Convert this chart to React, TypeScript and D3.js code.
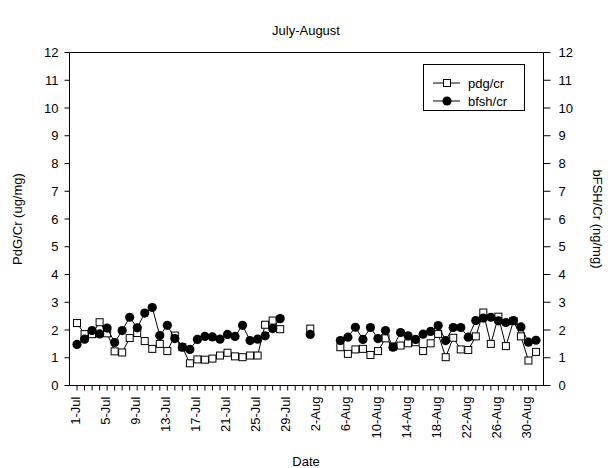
import React from 'react';
import * as d3 from 'd3';

// one entry per day, 1-Jul .. 31-Aug ; null = no sample that day
const startDate = new Date(2000, 6, 1);
const pdgValues = [
  2.25, 1.85, 1.85, 2.28, 1.88, 1.23, 1.19, 1.71, 1.89, 1.6, 1.32, 1.5, 1.24, 1.8, 1.38, 0.8,
  0.94, 0.93, 0.97, 1.08, 1.18, 1.05, 1.02, 1.08, 1.08, 2.19, 2.34, 2.03, null, null, null,
  2.05, null, null, null, 1.38, 1.14, 1.3, 1.32, 1.1, 1.24, 1.7, 1.4, 1.44, 1.52, 1.56, 1.24,
  1.52, 1.86, 1.02, 1.72, 1.3, 1.28, 1.77, 2.63, 1.5, 2.48, 1.42, 2.32, 1.77, 0.9, 1.21,
];
const bfshValues = [
  1.48, 1.67, 1.98, 1.86, 2.07, 1.55, 1.98, 2.46, 2.08, 2.61, 2.81, 1.8, 2.17, 1.69, 1.38, 1.3,
  1.66, 1.77, 1.75, 1.67, 1.84, 1.77, 2.17, 1.62, 1.67, 1.79, 2.05, 2.41, null, null, null,
  1.84, null, null, null, 1.62, 1.74, 2.1, 1.66, 2.09, 1.69, 1.98, 1.38, 1.91, 1.79, 1.66, 1.85,
  1.95, 2.16, 1.62, 2.09, 2.09, 1.74, 2.34, 2.43, 2.46, 2.33, 2.27, 2.34, 2.11, 1.56, 1.63,
];
const yTicks = [0, 1, 2, 3, 4, 5, 6, 7, 8, 9, 10, 11, 12];
const seriesNames = ['pdg/cr', 'bfsh/cr'];

const W = 608;
const H = 468;
const left = 69.5;
const right = 543.5;
const top = 52.5;
const bottom = 385.5;
const font = 'Arial, "Liberation Sans", sans-serif';

type Pt = { date: Date; v: number | null };

const toPoints = (vals: (number | null)[]): Pt[] =>
  vals.map((v, i) => ({ date: d3.timeDay.offset(startDate, i), v }));

export default function App() {
  const x = d3
    .scaleTime()
    .domain([new Date(2000, 5, 30), new Date(2000, 8, 1)])
    .range([left, right]);
  const y = d3.scaleLinear().domain([0, 12]).range([bottom, top]);

  const pdg = toPoints(pdgValues);
  const bfsh = toPoints(bfshValues);

  const line = d3
    .line<Pt>()
    .defined(d => d.v !== null)
    .x(d => x(d.date))
    .y(d => y(d.v as number));

  const dayTicks = d3.timeDay.range(new Date(2000, 6, 1), new Date(2000, 8, 1));
  const labelTicks = dayTicks.filter((_, i) => i % 4 === 0);
  const fmt = d3.timeFormat('%-d-%b');

  return (
    <svg width={W} height={H} style={{ position: 'absolute', left: 0, top: 0 }} fontFamily={font}>
      <rect width={W} height={H} fill="#fff" />
      <text x={306} y={35} textAnchor="middle" fontSize={13}>July-August</text>

      {/* frame */}
      <line x1={left} x2={right} y1={top} y2={top} stroke="#000" strokeWidth={1} />
      <line x1={left} x2={right} y1={bottom} y2={bottom} stroke="#000" />
      <line x1={left} x2={left} y1={top} y2={bottom} stroke="#000" />
      <line x1={right} x2={right} y1={top} y2={bottom} stroke="#000" />

      {/* y axes */}
      {yTicks.map(t => (
        <g key={t}>
          <line x1={left - 5} x2={left} y1={y(t)} y2={y(t)} stroke="#000" />
          <text x={left - 11} y={y(t)} dy="0.36em" textAnchor="end" fontSize={13}>{t}</text>
          <line x1={right} x2={right + 7} y1={y(t)} y2={y(t)} stroke="#000" />
          <text x={right + 15} y={y(t)} dy="0.36em" textAnchor="start" fontSize={13}>{t}</text>
        </g>
      ))}

      {/* x axis */}
      {dayTicks.map(d => (
        <line key={+d} x1={x(d)} x2={x(d)} y1={bottom} y2={bottom + 5} stroke="#000" />
      ))}
      {labelTicks.map(d => (
        <text
          key={+d}
          transform={`translate(${x(d)},${bottom + 11}) rotate(-90)`}
          dy="0.2em"
          textAnchor="end"
          fontSize={13}
        >
          {fmt(d)}
        </text>
      ))}

      <text x={306} y={466} textAnchor="middle" fontSize={13}>Date</text>
      <text transform={`translate(22,${(top + bottom) / 2}) rotate(-90)`} textAnchor="middle" fontSize={13}>
        PdG/Cr (ug/mg)
      </text>
      <text transform={`translate(593,${(top + bottom) / 2}) rotate(90)`} textAnchor="middle" fontSize={13}>
        bFSH/Cr (ng/mg)
      </text>

      {/* pdg series */}
      <path d={line(pdg) || ''} fill="none" stroke="#000" strokeWidth={1} />
      {pdg.filter(d => d.v !== null).map(d => (
        <rect
          key={+d.date}
          x={x(d.date) - 3.5}
          y={y(d.v as number) - 3.5}
          width={7}
          height={7}
          fill="#fff"
          stroke="#000"
        />
      ))}

      {/* bfsh series */}
      <path d={line(bfsh) || ''} fill="none" stroke="#000" strokeWidth={1} />
      {bfsh.filter(d => d.v !== null).map(d => (
        <circle key={+d.date} cx={x(d.date)} cy={y(d.v as number)} r={4.6} fill="#000" />
      ))}

      {/* legend */}
      <rect x={423.5} y={64.5} width={101} height={46} fill="#fff" stroke="#000" />
      {seriesNames.map((name, i) => {
        const ly = 83 + i * 18;
        return (
          <g key={name}>
            <line x1={433} x2={460} y1={ly} y2={ly} stroke="#000" />
            {i === 0 ? (
              <rect x={443.5} y={ly - 3.5} width={7} height={7} fill="#fff" stroke="#000" />
            ) : (
              <circle cx={447} cy={ly} r={4.6} fill="#000" />
            )}
            <text x={468} y={ly} dy="0.36em" fontSize={13}>{name}</text>
          </g>
        );
      })}
    </svg>
  );
}
